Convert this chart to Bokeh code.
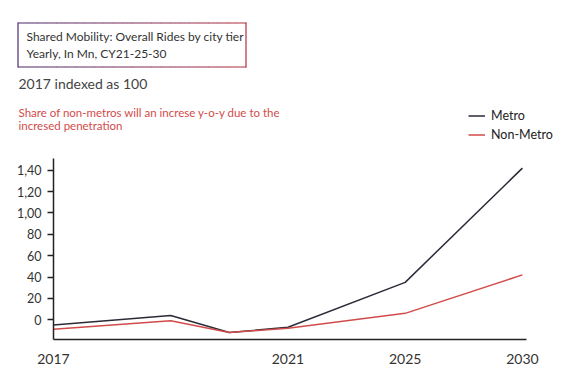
from bokeh.plotting import figure
from bokeh.models import (Range1d, FixedTicker, Label, BoxAnnotation, Legend, LegendItem,
                          ColumnDataSource, LinearAxis)
from bokeh.embed import file_html
from bokeh.resources import INLINE

# ---- data ----
years = ["2017", "2019", "2020", "2021", "2025", "2030"]
slot = [0, 2, 3, 4, 6, 8]
metro = [-5, 4, -12, -7, 35, 142]
non_metro = [-9, -1, -12, -8, 6, 42]
y_ticks = [0, 20, 40, 60, 80, 100, 120, 140]
y_tick_labels = ["0", "20", "40", "60", "80", "1,00", "1,20", "1,40"]
x_ticks = [0, 4, 6, 8]
x_tick_labels = ["2017", "2021", "2025", "2030"]
series_names = ["Metro", "Non-Metro"]

FONT = "Lato"
DARK = "#2b2b38"
RED = "#d24b4b"
W, H = 567, 376

# plot area in page pixels and its data bounds
PX_L, PX_R, PX_T, PX_B = 53, 526, 158, 339
X0, X1 = 0, 8.07
Y0, Y1 = -18.5, 151
kx = (PX_R - PX_L) / (X1 - X0)
ky = (PX_B - PX_T) / (Y1 - Y0)
x_range = Range1d(X0 - PX_L / kx, X1 + (W - PX_R) / kx)
y_range = Range1d(Y0 - (H - PX_B) / ky, Y1 + PX_T / ky)

p = figure(width=W, height=H, output_backend="svg", toolbar_location=None,
           x_range=x_range, y_range=y_range,
           x_axis_location=None, y_axis_location=None,
           min_border=0, min_border_left=0, min_border_right=0,
           min_border_top=0, min_border_bottom=0)
p.outline_line_color = None
p.grid.grid_line_color = None
p.extra_x_ranges = {"px": Range1d(0, W)}
p.extra_y_ranges = {"px": Range1d(H, 0)}

src = ColumnDataSource(dict(x=slot, metro=metro, non_metro=non_metro, year=years))
r1 = p.line("x", "metro", source=src, line_color=DARK, line_width=1.5)
r2 = p.line("x", "non_metro", source=src, line_color=RED, line_width=1.5)

# axes fixed at the plot-area edges
ya = LinearAxis(fixed_location=X0, bounds=(Y0, Y1))
ya.ticker = FixedTicker(ticks=y_ticks)
ya.major_label_overrides = {t: l for t, l in zip(y_ticks, y_tick_labels)}
ya.minor_tick_line_color = None
ya.major_tick_out = 6
ya.major_tick_in = 0
ya.major_tick_line_color = "#222222"
ya.major_tick_line_width = 1.5
ya.axis_line_color = "#222222"
ya.axis_line_width = 1.5
ya.major_label_text_font = FONT
ya.major_label_text_font_size = "12.5px"
ya.major_label_text_color = "#333333"
ya.major_label_standoff = 6
p.add_layout(ya, "left")

xa = LinearAxis(fixed_location=Y0, bounds=(X0, X1))
xa.ticker = FixedTicker(ticks=x_ticks)
xa.major_label_overrides = {t: l for t, l in zip(x_ticks, x_tick_labels)}
xa.minor_tick_line_color = None
xa.major_tick_line_color = None
xa.axis_line_color = "#222222"
xa.axis_line_width = 1.5
xa.major_label_text_font = FONT
xa.major_label_text_font_size = "14px"
xa.major_label_text_color = "#333333"
xa.major_label_standoff = 8
p.add_layout(xa, "below")

# title box with gradient border (page pixels)
L, R, T, B = 17.5, 245.5, 22.5, 66.5
n = 24
c0 = (75, 42, 110)
c1 = (176, 48, 64)
def mix(t):
    return "#%02x%02x%02x" % tuple(int(round(a + (b - a) * t)) for a, b in zip(c0, c1))
def px_box(l, r, t, b, col):
    p.add_layout(BoxAnnotation(left=l, right=r, top=t, bottom=b,
                               x_range_name="px", y_range_name="px",
                               fill_color=col, fill_alpha=1, line_color=None))
w = (R - L) / n
for i in range(n):
    col = mix((i + 0.5) / n)
    px_box(L + i * w, L + (i + 1) * w + 0.3, T - 0.6, T + 0.6, col)
    px_box(L + i * w, L + (i + 1) * w + 0.3, B - 0.6, B + 0.6, col)
px_box(L - 0.6, L + 0.6, T - 0.6, B + 0.6, mix(0))
px_box(R - 0.6, R + 0.6, T - 0.6, B + 0.6, mix(1))

def add_text(txt, x, y, size, color):
    p.add_layout(Label(x=x, y=y, text=txt, x_range_name="px", y_range_name="px",
                       text_font=FONT, text_font_size=size, text_color=color,
                       text_baseline="middle", text_align="left"))

add_text("Shared Mobility: Overall Rides by city tier", 26, 35.5, "12px", "#333333")
add_text("Yearly, In Mn, CY21-25-30", 26, 53, "12px", "#333333")
add_text("2017 indexed as 100", 18, 82.5, "14px", "#444444")
add_text("Share of non-metros will an increse y-o-y due to the", 18, 111.5, "11.5px", RED)
add_text("incresed penetration", 18, 125, "11.5px", RED)

legend = Legend(items=[LegendItem(label=series_names[0], renderers=[r1]),
                       LegendItem(label=series_names[1], renderers=[r2])],
                location=(468, H - 143.5), padding=0, margin=0, spacing=0,
                label_height=19, glyph_height=19, glyph_width=17, label_standoff=6,
                border_line_color=None, background_fill_alpha=0,
                label_text_font=FONT, label_text_font_size="12.5px", label_text_color="#222222")
p.add_layout(legend, "center")

open("out.html", "w").write(file_html(p, INLINE))
